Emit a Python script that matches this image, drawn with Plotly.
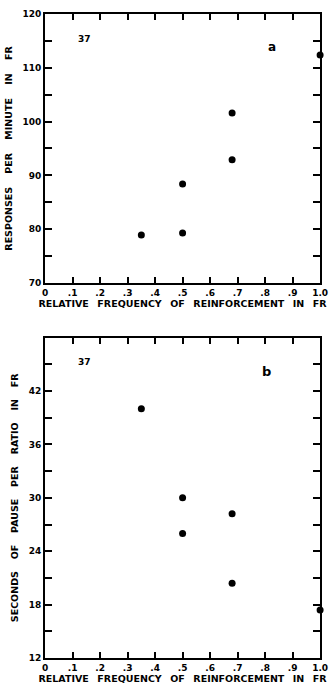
import plotly.graph_objects as go

# Panel a: responses per minute in FR
freq_a = [0.35, 0.50, 0.50, 0.68, 0.68, 1.00]
resp_a = [78.9, 79.3, 88.4, 92.9, 101.6, 112.4]

# Panel b: seconds of pause per ratio in FR
freq_b = [0.35, 0.50, 0.50, 0.68, 0.68, 1.00]
pause_b = [40.0, 30.0, 26.0, 28.2, 20.4, 17.4]

x_tickvals = [0, 0.1, 0.2, 0.3, 0.4, 0.5, 0.6, 0.7, 0.8, 0.9, 1.0]
x_ticktext = ["0", ".1", ".2", ".3", ".4", ".5", ".6", ".7", ".8", ".9", "1.0"]
ya_tickvals = [70, 80, 90, 100, 110, 120]
ya_minor = [75, 85, 95, 105, 115]
yb_tickvals = [12, 18, 24, 30, 36, 42]
yb_minor = [15, 21, 27, 33, 39, 45]

NB = "\u00a0"
TH = "\u2009"
xtitle = (NB * 2 + TH).join(["RELATIVE", "FREQUENCY", "OF", "REINFORCEMENT", "IN", "FR"])
ytitle_a = (NB * 4).join(["RESPONSES", "PER", "MINUTE", "IN", "FR"])
ytitle_b = (NB * 3 + TH).join(["SECONDS", "OF", "PAUSE", "PER", "RATIO", "IN", "FR"])

FONT = "DejaVu Sans"
tickfont = dict(family=FONT, size=9, color="black", weight="bold")
titlefont = dict(family=FONT, size=9.5, color="black", weight="bold")

fig = go.Figure()
fig.add_trace(go.Scatter(x=freq_a, y=resp_a, mode="markers",
                         marker=dict(color="black", size=7), xaxis="x", yaxis="y",
                         cliponaxis=False, showlegend=False))
fig.add_trace(go.Scatter(x=freq_b, y=pause_b, mode="markers",
                         marker=dict(color="black", size=7), xaxis="x2", yaxis="y2",
                         cliponaxis=False, showlegend=False))

xcommon = dict(range=[0, 1.0], tickvals=x_tickvals, ticktext=x_ticktext,
               ticks="inside", ticklen=6, tickwidth=2, tickcolor="black",
               showline=True, linewidth=2, linecolor="black", mirror="allticks",
               showgrid=False, zeroline=False, tickfont=tickfont, automargin=False,
               domain=[0.137, 0.973])

ycommon = dict(ticks="inside", ticklen=7, tickwidth=2, tickcolor="black",
               showline=True, linewidth=2, linecolor="black", mirror="allticks",
               showgrid=False, zeroline=False, tickfont=tickfont, automargin=False)

fig.update_layout(
    width=329, height=686,
    margin=dict(l=0, r=0, t=0, b=0, pad=0, autoexpand=False),
    paper_bgcolor="white", plot_bgcolor="white",
    showlegend=False,
    xaxis=dict(**xcommon, anchor="y",
               title=dict(text=xtitle, font=titlefont, standoff=3)),
    yaxis=dict(**ycommon, range=[70, 120], tickvals=ya_tickvals, anchor="x",
               domain=[0.5875, 0.9796],
               minor=dict(ticks="inside", ticklen=7, tickwidth=2, tickcolor="black",
                          tickvals=ya_minor, showgrid=False),
               title=dict(text=ytitle_a, font=titlefont, standoff=8)),
    xaxis2=dict(**xcommon, anchor="y2",
                title=dict(text=xtitle, font=titlefont, standoff=3)),
    yaxis2=dict(**ycommon, range=[12, 48], tickvals=yb_tickvals, anchor="x2",
                domain=[0.0408, 0.5079],
                minor=dict(ticks="inside", ticklen=7, tickwidth=2, tickcolor="black",
                           tickvals=yb_minor, showgrid=False),
                title=dict(text=ytitle_b, font=titlefont, standoff=8)),
)

fig.add_annotation(text="37", x=0.113, y=0.933, xref="x domain", yref="y domain",
                   showarrow=False, font=dict(family=FONT, size=9, color="black", weight="bold"))
fig.add_annotation(text="a", x=0.847, y=0.911, xref="x domain", yref="y domain",
                   showarrow=False, font=dict(family=FONT, size=12, color="black", weight="bold"))
fig.add_annotation(text="37", x=0.113, y=0.946, xref="x2 domain", yref="y2 domain",
                   showarrow=False, font=dict(family=FONT, size=9, color="black", weight="bold"))
fig.add_annotation(text="b", x=0.83, y=0.925, xref="x2 domain", yref="y2 domain",
                   showarrow=False, font=dict(family=FONT, size=13, color="black", weight="bold"))

fig.write_html("out.html", config={"displayModeBar": False},
               post_script="document.body.style.margin='0';")
